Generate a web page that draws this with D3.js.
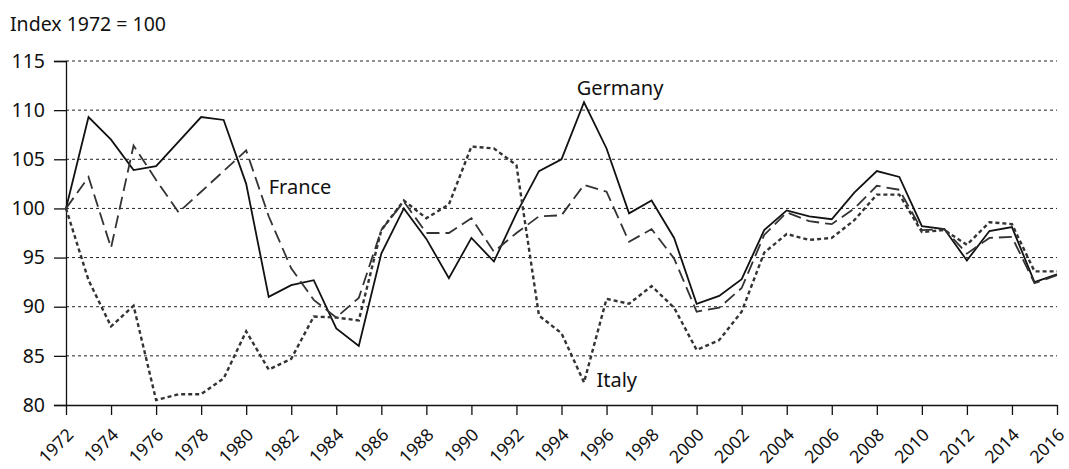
<!DOCTYPE html>
<html>
<head>
<meta charset="utf-8">
<script src="https://cdn.jsdelivr.net/npm/d3@7"></script>
<style>
  body { margin: 0; background: #fff; }
  text { font-family: "Noto Sans", "Open Sans", sans-serif; fill: #111; }
</style>
</head>
<body>
<div id="chart"></div>
<script>
// Index 1972 = 100
const years = d3.range(1972, 2017);
const germany = [100, 109.3, 107.0, 103.9, 104.3, 106.8, 109.3, 109.0, 102.5, 91.0,
  92.2, 92.7, 87.8, 86.0, 95.4, 100.0, 96.9, 92.9, 97.0, 94.6,
  99.5, 103.8, 105.0, 110.8, 106.1, 99.5, 100.8, 97.0, 90.3, 91.1,
  92.8, 97.8, 99.8, 99.2, 98.9, 101.6, 103.8, 103.2, 98.2, 97.9,
  94.7, 97.7, 98.1, 92.5, 93.3];
const france = [100, 103.2, 96.0, 106.4, 102.9, 99.6, 101.7, 103.8, 105.9, 99.2,
  93.9, 90.7, 88.9, 90.9, 97.8, 100.7, 97.5, 97.5, 99.0, 95.6,
  97.5, 99.2, 99.3, 102.4, 101.7, 96.6, 97.9, 94.9, 89.5, 89.9,
  91.9, 97.3, 99.6, 98.7, 98.4, 100.0, 102.3, 101.9, 97.8, 97.9,
  95.4, 97.0, 97.1, 92.4, 93.2];
const italy = [100, 92.7, 88.0, 90.1, 80.5, 81.1, 81.1, 82.7, 87.5, 83.6,
  84.7, 89.0, 88.9, 88.6, 97.8, 100.8, 99.0, 100.4, 106.3, 106.1,
  104.4, 89.1, 87.3, 82.3, 90.8, 90.3, 92.1, 89.9, 85.6, 86.6,
  89.5, 95.5, 97.4, 96.8, 97.0, 98.8, 101.4, 101.4, 97.6, 97.8,
  96.3, 98.6, 98.4, 93.6, 93.6];
const yTicks = [80, 85, 90, 95, 100, 105, 110, 115];
const xTicks = d3.range(1972, 2017, 2);

const width = 1069;
const height = 469;
const margin = { top: 61, right: 12, bottom: 64, left: 66 };

const svg = d3.select("#chart")
  .append("svg")
  .attr("width", width)
  .attr("height", height);

const x = d3.scaleLinear()
  .domain([1972, 2016])
  .range([margin.left, width - margin.right]);

const y = d3.scaleLinear()
  .domain([80, 115])
  .range([height - margin.bottom, margin.top]);

// gridlines
svg.append("g")
  .selectAll("line")
  .data(yTicks.filter(d => d > 80))
  .enter()
  .append("line")
  .attr("x1", margin.left)
  .attr("x2", width - margin.right)
  .attr("y1", d => y(d))
  .attr("y2", d => y(d))
  .attr("stroke", "#222")
  .attr("stroke-width", 1)
  .attr("stroke-dasharray", "3,3");

// axes
const yAxis = svg.append("g")
  .attr("transform", `translate(${margin.left},0)`)
  .call(d3.axisLeft(y).tickValues(yTicks).tickSize(12).tickPadding(9));
yAxis.select(".domain").attr("stroke", "#111").attr("stroke-width", 1.3);
yAxis.selectAll(".tick line").attr("stroke", "#111").attr("stroke-width", 1.3);
yAxis.selectAll("text")
  .style("font-family", '"Noto Sans", sans-serif')
  .style("font-size", "19.5px")
  .attr("fill", "#111");

const xAxis = svg.append("g")
  .attr("transform", `translate(0,${height - margin.bottom})`)
  .call(d3.axisBottom(x).tickValues(xTicks).tickFormat(d3.format("d")).tickSize(10).tickSizeOuter(0));
xAxis.select(".domain").attr("stroke", "#111").attr("stroke-width", 1.3);
xAxis.selectAll(".tick line").attr("stroke", "#111").attr("stroke-width", 1.3);
xAxis.selectAll("text")
  .style("font-family", '"Noto Sans", sans-serif')
  .style("font-size", "17.5px")
  .attr("fill", "#111")
  .attr("text-anchor", "end")
  .attr("transform", "translate(8,31) rotate(-45)")
  .attr("dy", "0")
  .attr("y", 0)
  .attr("x", 0);

// lines
const series = [
  { name: "Germany", values: germany, dash: null, color: "#111", w: 1.8 },
  { name: "France", values: france, dash: "13,6", color: "#333", w: 1.8 },
  { name: "Italy", values: italy, dash: "4,3", color: "#333", w: 2.4 }
];

const line = d3.line()
  .x((d, i) => x(years[i]))
  .y(d => y(d));

svg.append("g")
  .selectAll("path")
  .data(series)
  .enter()
  .append("path")
  .attr("d", d => line(d.values))
  .attr("fill", "none")
  .attr("stroke", d => d.color)
  .attr("stroke-width", d => d.w)
  .attr("stroke-dasharray", d => d.dash)
  .attr("stroke-linejoin", "miter");

// labels
const labels = [
  { text: "Germany", year: 1996.6, value: 111.5 },
  { text: "France", year: 1981.0, value: 101.5 },
  { text: "Italy", year: 1995.55, value: 81.8 }
];
svg.append("g")
  .selectAll("text")
  .data(labels)
  .enter()
  .append("text")
  .attr("x", d => x(d.year))
  .attr("y", d => y(d.value))
  .attr("text-anchor", d => d.text === "Germany" ? "middle" : "start")
  .style("font-size", "20px")
  .text(d => d.text);

svg.append("text")
  .attr("x", 10)
  .attr("y", 31)
  .style("font-size", "19.5px")
  .text("Index 1972 = 100");
</script>
</body>
</html>
